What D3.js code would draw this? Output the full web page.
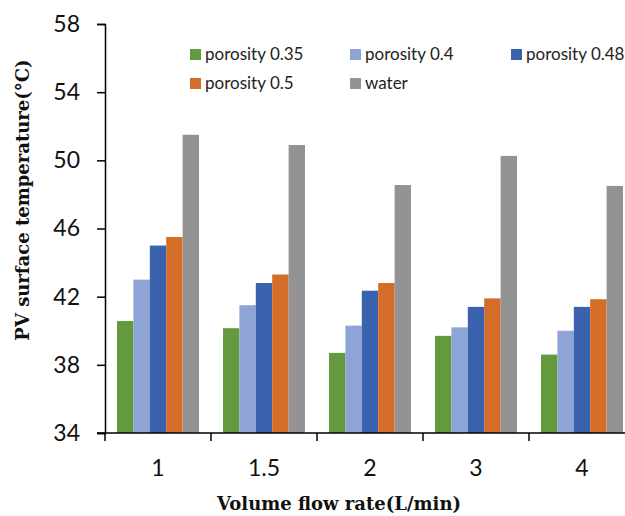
<!DOCTYPE html>
<html>
<head>
<meta charset="utf-8">
<script src="https://cdn.jsdelivr.net/npm/d3@7"></script>
<style>
  body { margin: 0; background: #fff; }
  svg { display: block; }
</style>
</head>
<body>
<svg id="chart"></svg>
<script>
// Chart data
const flowRates = ["1", "1.5", "2", "3", "4"];
const seriesNames = ["porosity 0.35", "porosity 0.4", "porosity 0.48", "porosity 0.5", "water"];
const seriesColors = ["#629a3d", "#8fa4d6", "#3b63ad", "#d46d28", "#939393"];
const porosity035 = [40.57, 40.15, 38.7, 39.7, 38.6];
const porosity04 = [43.0, 41.5, 40.3, 40.2, 40.0];
const porosity048 = [45.0, 42.8, 42.35, 41.4, 41.4];
const porosity05 = [45.5, 43.3, 42.8, 41.9, 41.85];
const water = [51.5, 50.9, 48.55, 50.26, 48.5];
const yTicks = [34, 38, 42, 46, 50, 54, 58];

const seriesValues = [porosity035, porosity04, porosity048, porosity05, water];

const width = 625;
const height = 516;
const margin = { top: 24, right: -10, bottom: 83, left: 105 };

const svg = d3.select("#chart").attr("width", width).attr("height", height);

// Scales
const x = d3
  .scaleBand()
  .domain(flowRates)
  .range([margin.left, width - margin.right])
  .paddingInner(0)
  .paddingOuter(0);

const x1 = d3
  .scaleBand()
  .domain(seriesNames)
  .range([12, x.bandwidth() - 12]);

const y = d3
  .scaleLinear()
  .domain([34, 58])
  .range([height - margin.bottom, margin.top]);

// Bars
const groups = svg
  .append("g")
  .selectAll("g")
  .data(flowRates)
  .enter()
  .append("g")
  .attr("transform", (d) => `translate(${x(d)},0)`);

groups
  .selectAll("rect")
  .data((d, i) => seriesNames.map((s, j) => ({ s, v: seriesValues[j][i], c: seriesColors[j] })))
  .enter()
  .append("rect")
  .attr("x", (d) => x1(d.s))
  .attr("width", x1.bandwidth())
  .attr("y", (d) => y(d.v))
  .attr("height", (d) => y(34) - y(d.v))
  .attr("fill", (d) => d.c);

// Y axis
const yAxis = svg
  .append("g")
  .attr("transform", `translate(${margin.left},0)`)
  .call(d3.axisLeft(y).tickValues(yTicks).tickSize(8).tickPadding(17));

yAxis.select(".domain").attr("stroke", "#000").attr("stroke-width", 1.5);
yAxis.selectAll(".tick line").attr("stroke", "#000").attr("stroke-width", 1.5);
yAxis
  .selectAll(".tick text")
  .attr("fill", "#111")
  .style("font-family", "Lato, 'Open Sans', sans-serif")
  .style("font-size", "23px");

// X axis: ticks sit between the categories
const xAxisG = svg.append("g").attr("transform", `translate(0,${y(34)})`);
xAxisG
  .append("line")
  .attr("x1", margin.left - 8)
  .attr("x2", width)
  .attr("stroke", "#000")
  .attr("stroke-width", 1.5);

xAxisG
  .selectAll(".xtick")
  .data(flowRates)
  .enter()
  .append("line")
  .attr("x1", (d) => x(d))
  .attr("x2", (d) => x(d))
  .attr("y1", 0)
  .attr("y2", 8)
  .attr("stroke", "#000")
  .attr("stroke-width", 1.5);

xAxisG
  .selectAll(".xlabel")
  .data(flowRates)
  .enter()
  .append("text")
  .attr("x", (d) => x(d) + x.bandwidth() / 2)
  .attr("y", 43)
  .attr("text-anchor", "middle")
  .attr("fill", "#111")
  .style("font-family", "Lato, 'Open Sans', sans-serif")
  .style("font-size", "23px")
  .text((d) => d);

// Axis titles
svg
  .append("text")
  .attr("x", 339)
  .attr("y", 510)
  .attr("text-anchor", "middle")
  .style("font-family", "'DejaVu Serif', serif")
  .style("font-weight", "bold")
  .style("font-size", "18px")
  .attr("fill", "#111")
  .text("Volume flow rate(L/min)");

svg
  .append("text")
  .attr("transform", "translate(29,200) rotate(-90)")
  .attr("text-anchor", "middle")
  .style("font-family", "'DejaVu Serif', serif")
  .style("font-weight", "bold")
  .style("font-size", "18px")
  .attr("fill", "#111")
  .text("PV surface temperature(°C)");

// Legend
const legendPos = [
  [190, 49], [350, 49], [511, 49],
  [190, 78], [350, 78]
];

const legend = svg
  .append("g")
  .selectAll("g")
  .data(seriesNames)
  .enter()
  .append("g")
  .attr("transform", (d, i) => `translate(${legendPos[i][0]},${legendPos[i][1]})`);

legend
  .append("rect")
  .attr("width", 11)
  .attr("height", 11)
  .attr("fill", (d, i) => seriesColors[i]);

legend
  .append("text")
  .attr("x", 15)
  .attr("y", 11)
  .attr("fill", "#222")
  .style("font-family", "Lato, 'Open Sans', sans-serif")
  .style("font-size", "17px")
  .text((d) => d);
</script>
</body>
</html>
